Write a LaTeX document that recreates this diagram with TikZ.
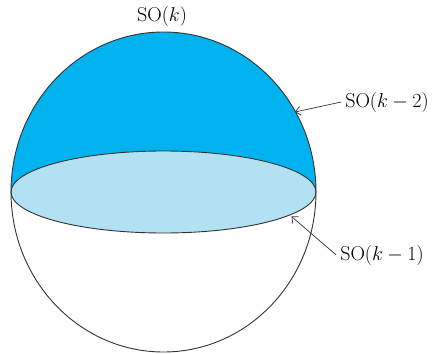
\documentclass[tikz,border=0pt]{standalone}
\usepackage{xcolor}
\usepackage{tikz}
\usetikzlibrary{arrows.meta}
\definecolor{capblue}{HTML}{00B2EE}
\definecolor{diskblue}{HTML}{B1E1F3}
\definecolor{edgegray}{HTML}{333333}

\begin{document}
\begin{tikzpicture}[x=1pt,y=1pt,
  lab/.style={font=\fontsize{17.28}{20}\selectfont,scale=1.16,transform shape},
  rim/.style={draw=edgegray,line width=0.9pt},
  arr/.style={-{Straight Barb[length=5pt,width=9pt]},line width=0.7pt,color=edgegray}
]
\useasboundingbox (0,0) rectangle (432,354);
\coordinate (c) at (163.5,162);
\coordinate (w) at (11,162);
\fill[capblue] (w) arc[start angle=180,end angle=0,x radius=152.5,y radius=160] -- cycle;
\filldraw[fill=diskblue,rim] (c) ellipse[x radius=152.5,y radius=41];
\draw[rim] (c) ellipse[x radius=152.5,y radius=160];

\node[lab] (k) at (162,338) {$\mathrm{SO}(k)$};
\node[lab] (km2) at (387,252) {$\mathrm{SO}(k-2)$};
\node[lab] (km1) at (382,99) {$\mathrm{SO}(k-1)$};
\coordinate (capedge) at (295,242);
\coordinate (diskedge) at (291.5,137.5);
\draw[arr] (km2.west) -- (capedge);
\draw[arr] (km1.west) -- (diskedge);
\end{tikzpicture}
\end{document}
